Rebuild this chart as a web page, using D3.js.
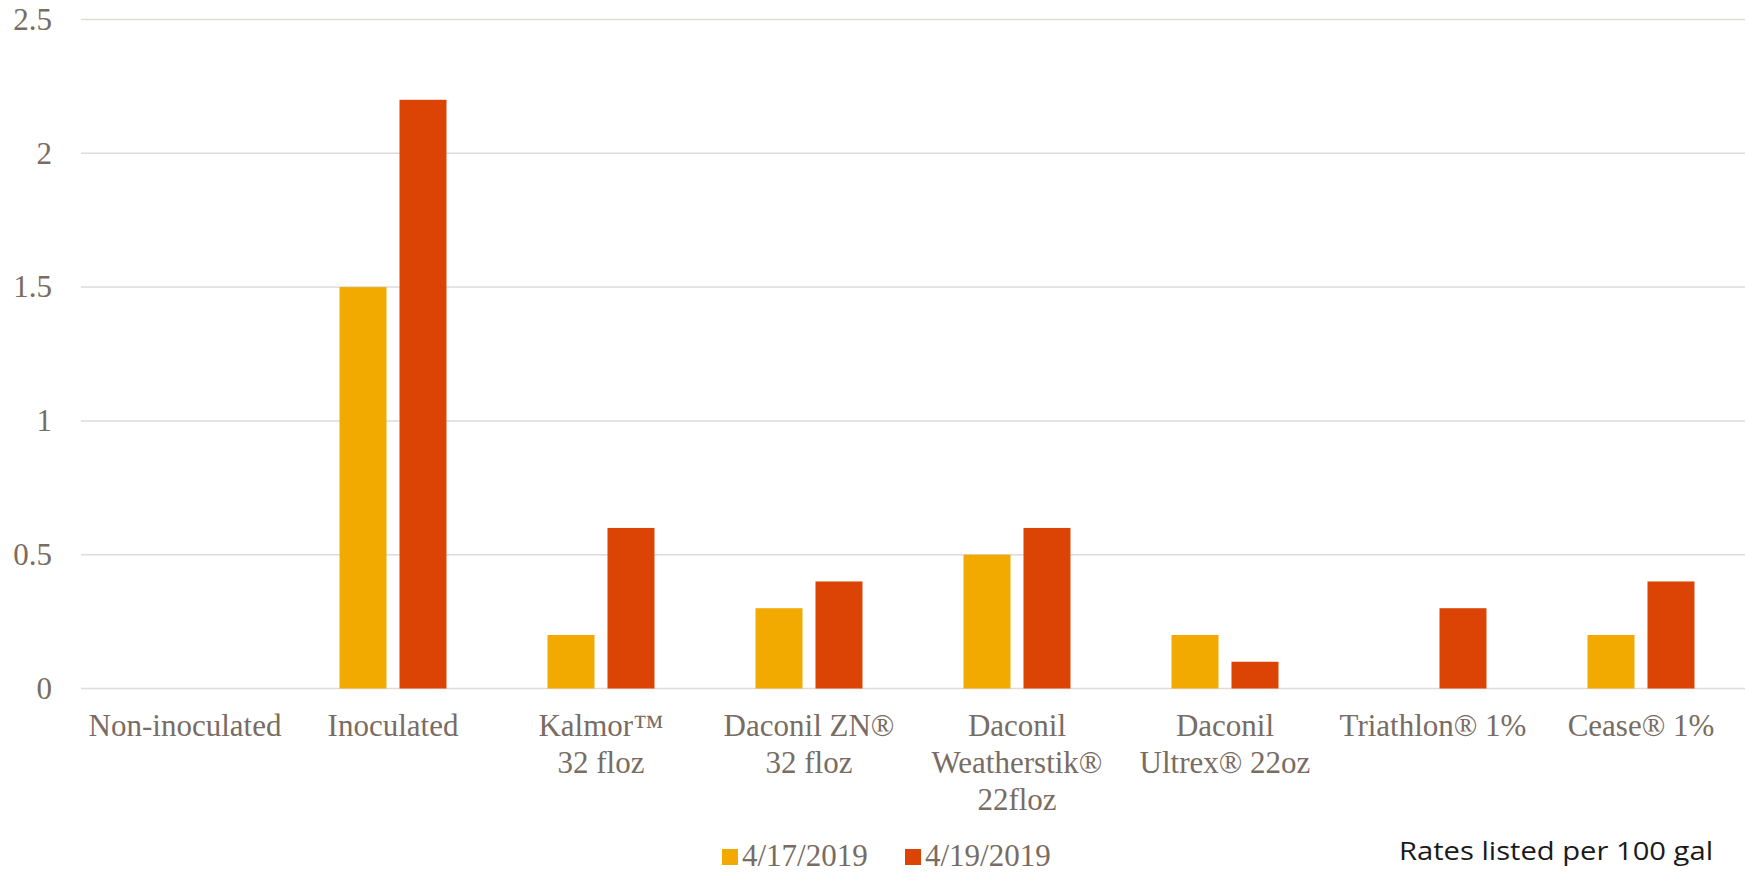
<!DOCTYPE html>
<html>
<head>
<meta charset="utf-8">
<script src="https://cdn.jsdelivr.net/npm/d3@7"></script>
<style>
  body { margin: 0; background: #fff; }
  svg { display: block; }
</style>
</head>
<body>
<svg width="1748" height="872"></svg>
<script>
// chart data
var categories = [
  ["Non-inoculated"],
  ["Inoculated"],
  ["Kalmor\u2122", "32 floz"],
  ["Daconil ZN\u00ae", "32 floz"],
  ["Daconil", "Weatherstik\u00ae", "22floz"],
  ["Daconil", "Ultrex\u00ae 22oz"],
  ["Triathlon\u00ae 1%"],
  ["Cease\u00ae 1%"]
];
var seriesNames = ["4/17/2019", "4/19/2019"];
var series1 = [0, 1.5, 0.2, 0.3, 0.5, 0.2, 0, 0.2];
var series2 = [0, 2.2, 0.6, 0.4, 0.6, 0.1, 0.3, 0.4];
var yTicks = [0, 0.5, 1, 1.5, 2, 2.5];
var note = "Rates listed per 100 gal";

var colors = ["#f2aa00", "#dc4405"];
var textColor = "#786c63";

var svg = d3.select("svg");

var x = d3.scaleBand()
  .domain(d3.range(categories.length))
  .range([81, 1745]);

var xInner = d3.scaleBand()
  .domain([0, 1])
  .range([0, x.bandwidth()])
  .paddingInner(0.2167)
  .paddingOuter(0.842);

var y = d3.scaleLinear()
  .domain([0, 2.5])
  .range([688.5, 19.5]);

// gridlines
svg.append("g")
  .selectAll("line")
  .data(yTicks)
  .enter().append("line")
  .attr("x1", 81)
  .attr("x2", 1745)
  .attr("y1", function(d) { return y(d); })
  .attr("y2", function(d) { return y(d); })
  .attr("stroke", "#dedbd8")
  .attr("stroke-width", 1.5);

// y tick labels
svg.append("g")
  .selectAll("text")
  .data(yTicks)
  .enter().append("text")
  .attr("x", 52)
  .attr("y", function(d) { return y(d); })
  .attr("dy", "0.33em")
  .attr("text-anchor", "end")
  .style("font-family", "'Liberation Serif', 'Times New Roman', serif")
  .style("font-size", "31px")
  .style("fill", textColor)
  .text(function(d) { return d; });

// bars (keep the series index with each value, zero bars are skipped)
var rows = categories.map(function(c, i) {
  return [{v: series1[i], s: 0}, {v: series2[i], s: 1}].filter(function(b) { return b.v > 0; });
});

var groups = svg.append("g")
  .selectAll("g")
  .data(rows)
  .enter().append("g")
  .attr("transform", function(d, i) { return "translate(" + x(i) + ",0)"; });

groups.selectAll("rect")
  .data(function(d) { return d; })
  .enter().append("rect")
  .attr("x", function(d) { return xInner(d.s); })
  .attr("width", xInner.bandwidth())
  .attr("y", function(d) { return y(d.v); })
  .attr("height", function(d) { return y(0) - y(d.v); })
  .attr("fill", function(d) { return colors[d.s]; });

// category labels
var labels = svg.append("g")
  .selectAll("text")
  .data(categories)
  .enter().append("text")
  .attr("x", function(d, i) { return x(i) + x.bandwidth() / 2; })
  .attr("y", 736)
  .attr("text-anchor", "middle")
  .style("font-family", "'Liberation Serif', 'Times New Roman', serif")
  .style("font-size", "31px")
  .style("fill", textColor);

labels.selectAll("tspan")
  .data(function(d) { return d; })
  .enter().append("tspan")
  .attr("x", function() { return d3.select(this.parentNode).attr("x"); })
  .attr("dy", function(d, k) { return k == 0 ? 0 : 37; })
  .text(function(d) { return d; });

// legend
var legendX = [722, 905];
var legend = svg.append("g")
  .selectAll("g")
  .data(seriesNames)
  .enter().append("g")
  .attr("transform", function(d, i) { return "translate(" + legendX[i] + ",0)"; });

legend.append("rect")
  .attr("x", 0)
  .attr("y", 849)
  .attr("width", 16)
  .attr("height", 16)
  .attr("fill", function(d, i) { return colors[i]; });

legend.append("text")
  .attr("x", 20)
  .attr("y", 866)
  .style("font-family", "'Liberation Serif', 'Times New Roman', serif")
  .style("font-size", "31px")
  .style("fill", textColor)
  .text(function(d) { return d; });

// note
svg.append("text")
  .attr("x", 1399)
  .attr("y", 860)
  .attr("textLength", 314)
  .attr("lengthAdjust", "spacingAndGlyphs")
  .style("font-family", "'Open Sans', 'Liberation Sans', sans-serif")
  .style("font-size", "25px")
  .style("fill", "#1a1a1a")
  .text(note);
</script>
</body>
</html>
